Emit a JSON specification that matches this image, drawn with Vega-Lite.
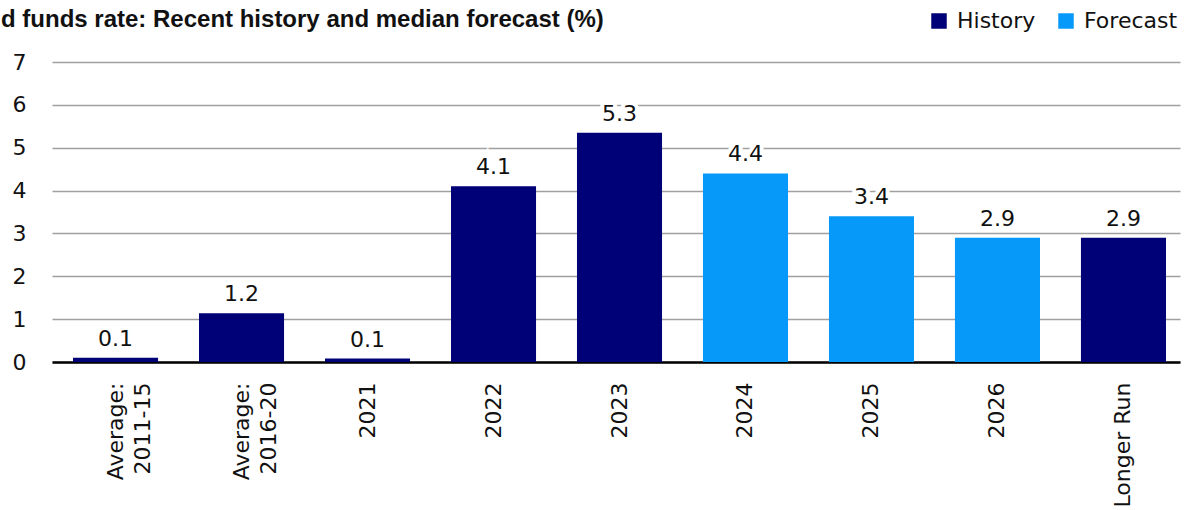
{
  "$schema": "https://vega.github.io/schema/vega-lite/v6.json",
  "width": 1128,
  "height": 300,
  "autosize": {"type": "none"},
  "padding": {"left": 52, "top": 62, "right": 12, "bottom": 148},
  "background": "white",
  "title": {
    "text": "d funds rate: Recent history and median forecast (%)",
    "anchor": "start",
    "frame": "group",
    "dx": -51,
    "offset": -41,
    "baseline": "alphabetic",
    "font": "Liberation Sans",
    "fontSize": 24,
    "fontWeight": "bold",
    "color": "#111111"
  },
  "config": {
    "view": {"stroke": null},
    "font": "DejaVu Sans"
  },
  "data": {
    "values": [
      {"period": "Average:\n2011-15", "rate": 0.1, "label": "0.1", "type": "History"},
      {"period": "Average:\n2016-20", "rate": 1.14, "label": "1.2", "type": "History"},
      {"period": "2021", "rate": 0.08, "label": "0.1", "type": "History"},
      {"period": "2022", "rate": 4.1, "label": "4.1", "type": "History"},
      {"period": "2023", "rate": 5.35, "label": "5.3", "type": "History"},
      {"period": "2024", "rate": 4.4, "label": "4.4", "type": "Forecast"},
      {"period": "2025", "rate": 3.4, "label": "3.4", "type": "Forecast"},
      {"period": "2026", "rate": 2.9, "label": "2.9", "type": "Forecast"},
      {"period": "Longer Run", "rate": 2.9, "label": "2.9", "type": "History"}
    ]
  },
  "encoding": {
    "x": {
      "field": "period",
      "type": "nominal",
      "sort": null,
      "scale": {"paddingInner": 0.325, "paddingOuter": 0.139, "align": 0.6},
      "axis": {
        "title": null,
        "labelAngle": 270,
        "labelAlign": "right",
        "labelBaseline": "middle",
        "labelPadding": 20,
        "labelFont": "DejaVu Sans",
        "labelFontSize": 22,
        "labelColor": "#111111",
        "labelLineHeight": 27,
        "labelExpr": "split(datum.label, '\\n')",
        "ticks": false,
        "domainColor": "#000000",
        "domainWidth": 2.5,
        "labelLimit": 300
      }
    },
    "y": {
      "field": "rate",
      "type": "quantitative",
      "scale": {"domain": [0, 7], "nice": false},
      "axis": {
        "title": null,
        "values": [0, 1, 2, 3, 4, 5, 6, 7],
        "domain": false,
        "ticks": false,
        "labelPadding": 26,
        "labelFont": "DejaVu Sans",
        "labelFontSize": 22,
        "labelColor": "#111111",
        "gridColor": "#a0a0a0",
        "gridWidth": 1.5
      }
    }
  },
  "layer": [
    {
      "mark": {"type": "bar"},
      "encoding": {
        "color": {
          "field": "type",
          "type": "nominal",
          "scale": {"domain": ["History", "Forecast"], "range": ["#000077", "#0799FA"]},
          "legend": {
            "title": null,
            "orient": "none",
            "legendX": 876,
            "legendY": -52,
            "direction": "horizontal",
            "symbolType": "square",
            "symbolSize": 240,
            "symbolStrokeWidth": 0,
            "labelFont": "DejaVu Sans",
            "labelFontSize": 22,
            "labelColor": "#111111",
            "labelOffset": 7,
            "columnPadding": 19
          }
        }
      }
    },
    {
      "mark": {"type": "text", "baseline": "bottom", "dy": -7, "font": "DejaVu Sans", "fontSize": 22, "stroke": "white", "strokeWidth": 8, "color": "white"},
      "encoding": {"text": {"field": "label"}}
    },
    {
      "mark": {"type": "text", "baseline": "bottom", "dy": -7, "font": "DejaVu Sans", "fontSize": 22, "color": "#111111"},
      "encoding": {"text": {"field": "label"}}
    }
  ]
}
